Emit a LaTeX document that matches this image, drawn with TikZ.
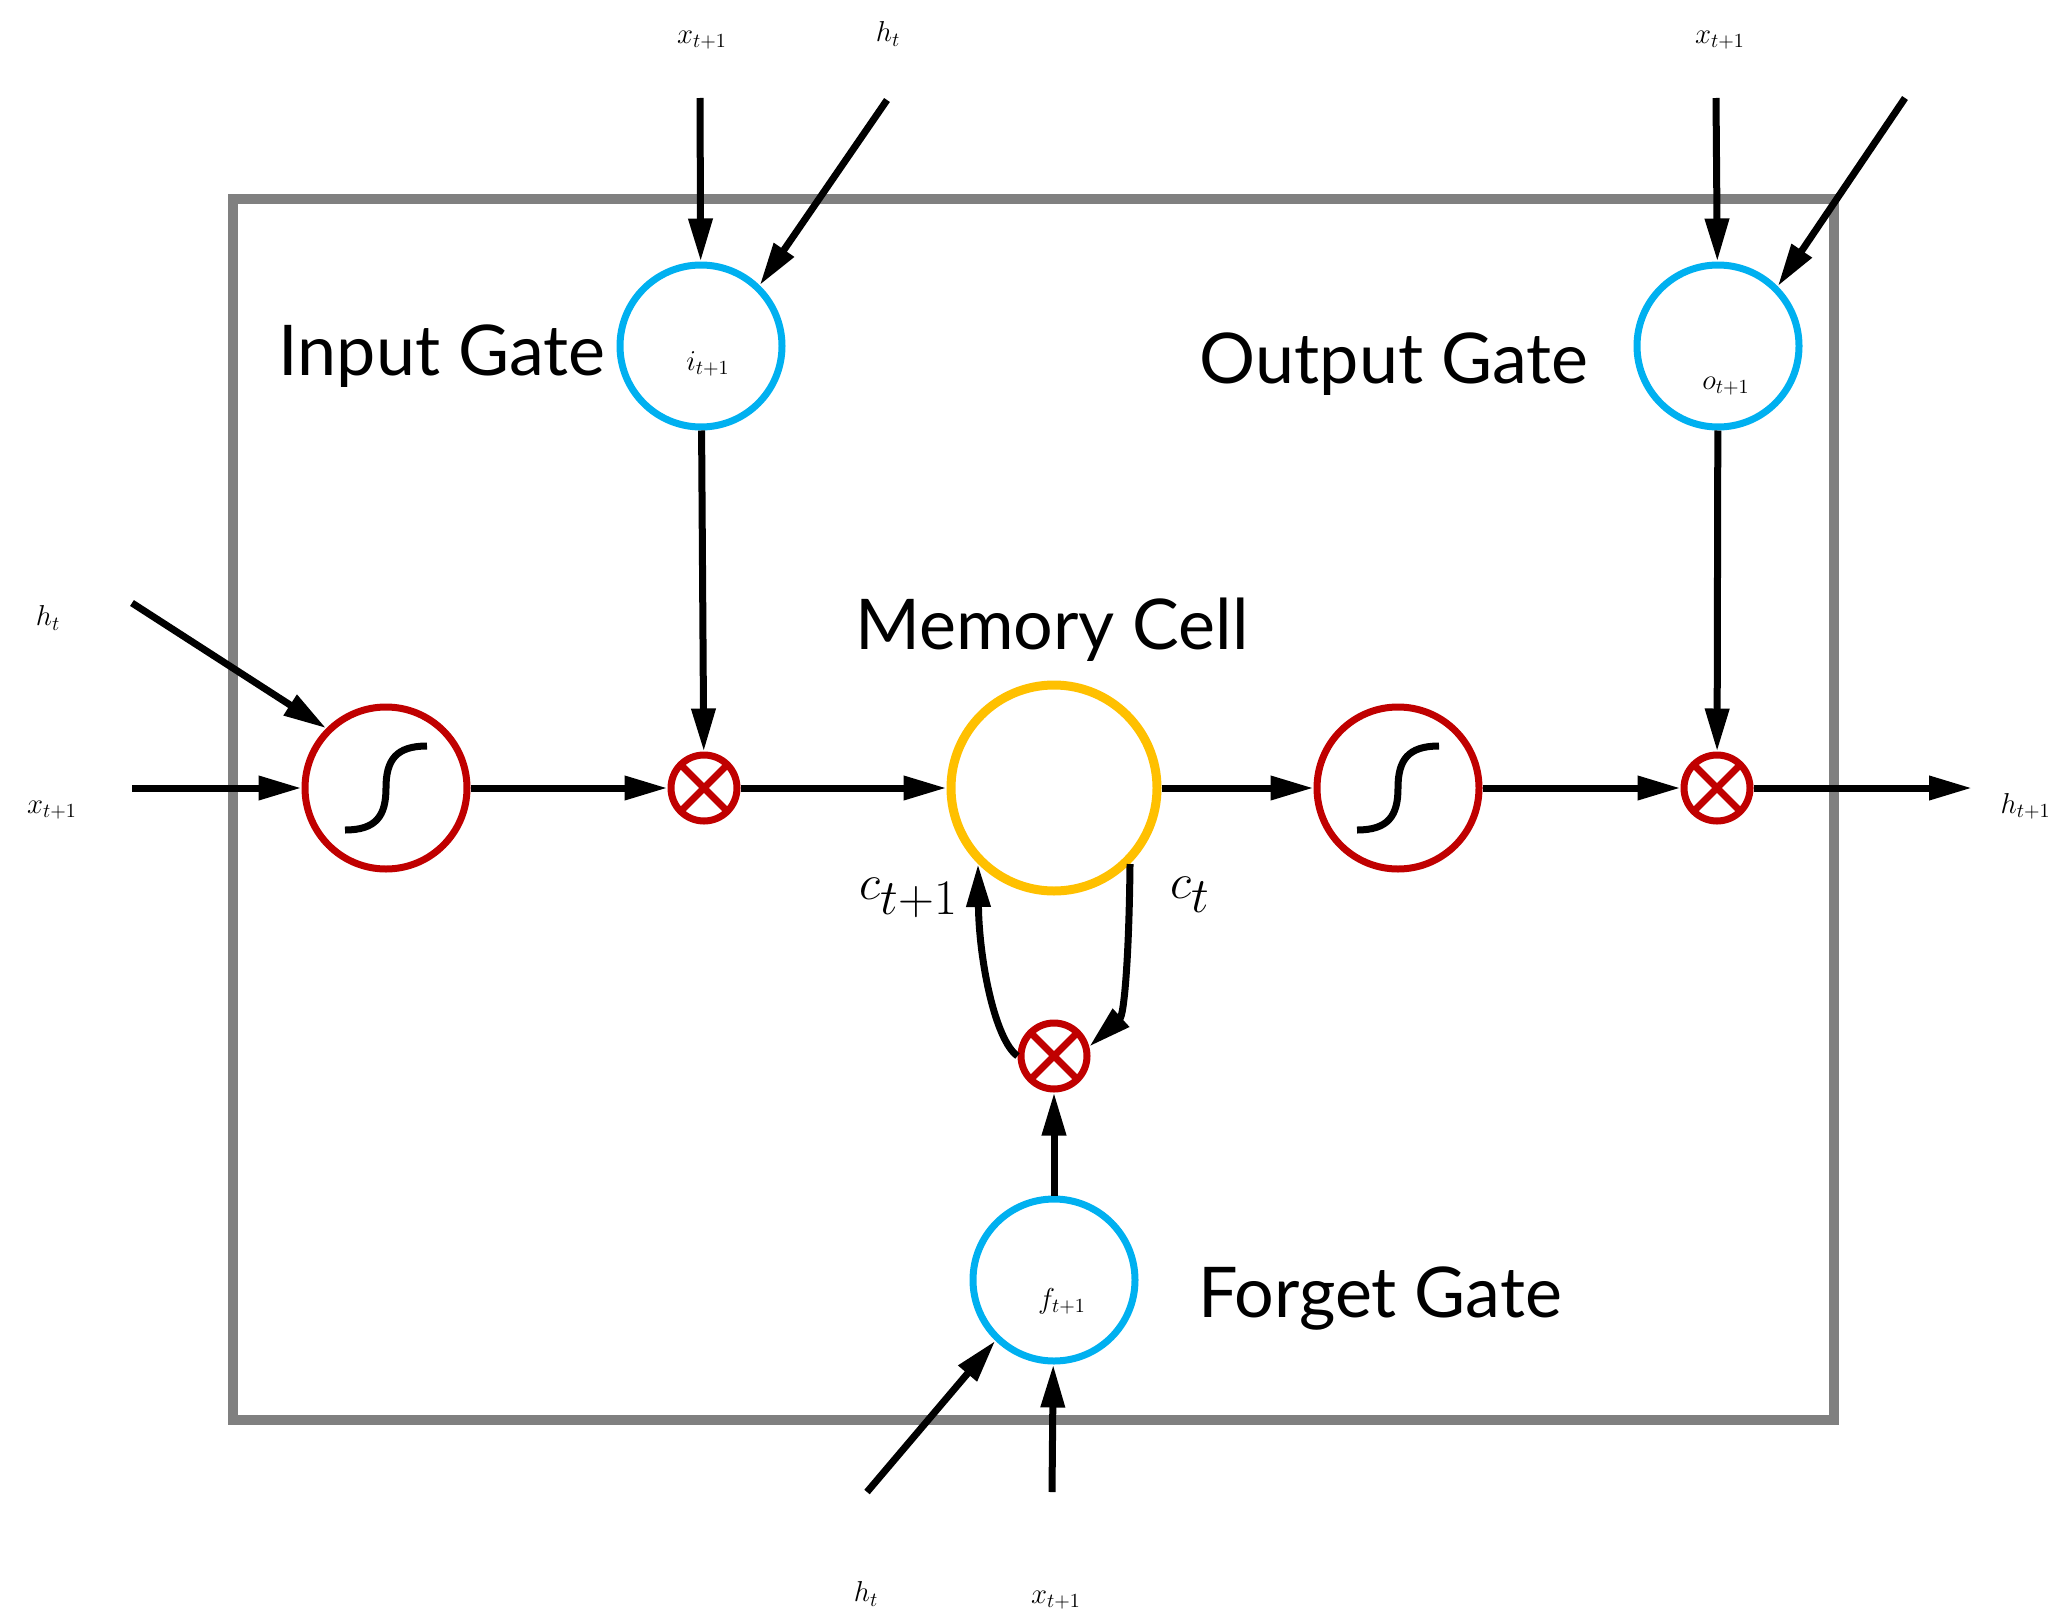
\documentclass[tikz,border=0pt]{standalone}
\usepackage{fontspec}
\newfontfamily\labfont{Lato}
\usetikzlibrary{arrows.meta}
\definecolor{gatered}{HTML}{C00000}
\definecolor{gateblue}{HTML}{00B0F0}
\definecolor{cellgold}{HTML}{FFC000}
\definecolor{boxgray}{HTML}{808080}
\begin{document}
\begin{tikzpicture}[x=0.5pt,y=-0.5pt,
  conn/.style={line width=3.5pt, -{Triangle[length=21.5pt,width=11.5pt]}},
  plain/.style={line width=3.5pt},
  actnode/.style={circle, draw=gatered, line width=3.5pt, minimum size=81pt, inner sep=0pt},
  mulnode/.style={circle, draw=gatered, line width=3.5pt, minimum size=33pt, inner sep=0pt,
    path picture={\draw[gatered, line width=3.5pt]
      (path picture bounding box.north west) -- (path picture bounding box.south east)
      (path picture bounding box.north east) -- (path picture bounding box.south west);}},
  gatenode/.style={circle, draw=gateblue, line width=3.5pt, minimum size=81pt, inner sep=0pt},
  cellnode/.style={circle, draw=cellgold, line width=4.5pt, minimum size=103pt, inner sep=0pt},
  biglab/.style={font=\labfont\fontsize{35}{40}\selectfont, inner sep=0pt, anchor=base},
  smalllab/.style={font=\fontsize{14}{16}\selectfont, inner sep=0pt},
  clab/.style={font=\fontsize{33}{36}\selectfont, inner sep=0pt},
]
\useasboundingbox (0,0) rectangle (2055,1611);
% outer box
\draw[boxgray, line width=5pt] (233,199) rectangle (1834,1420);

% nodes
\node[actnode] (s1) at (386,788) {};
\node[mulnode] (m1) at (704,788) {};
\node[cellnode] (mem) at (1054,788) {};
\node[actnode] (s2) at (1398,788) {};
\node[mulnode] (m2) at (1717,788) {};
\node[gatenode] (ig) at (701,346) {};
\node[gatenode] (og) at (1718,346) {};
\node[mulnode] (mf) at (1054,1056) {};
\node[gatenode] (fg) at (1054,1280) {};

% gate symbols
\node[smalllab] (ilab) at (708,364) {$i_{t+1}$};
\node[smalllab] (olab) at (1726,386) {$o_{t+1}$};
\node[smalllab] (flab) at (1062,1301) {$f_{t+1}$};

% sigmoid curves
\foreach \s in {s1,s2}{
  \draw[plain] ([shift={(-41,42)}]\s.center) .. controls ([shift={(-10,42)}]\s.center) and ([shift={(0,28)}]\s.center) .. (\s.center)
    .. controls ([shift={(0,-28)}]\s.center) and ([shift={(10,-42)}]\s.center) .. ([shift={(41,-42)}]\s.center);
}

% free ends
\coordinate (ix) at (700,98);
\coordinate (ih) at (887,100);
\coordinate (ox) at (1716,98);
\coordinate (oh) at (1905,98);
\coordinate (lh) at (132,603);
\coordinate (lx) at (132,788);
\coordinate (fh) at (867,1492);
\coordinate (fx) at (1052,1492);
\coordinate (out) at (1972,788);

% input labels
\node[smalllab] (ixl) at (702,40) {$x_{t+1}$};
\node[smalllab] (ihl) at (888,34) {$h_t$};
\node[smalllab] (oxl) at (1720,40) {$x_{t+1}$};
\node[smalllab] (lhl) at (48,618) {$h_t$};
\node[smalllab] (lxl) at (52,810) {$x_{t+1}$};
\node[smalllab] (fhl) at (866,1594) {$h_t$};
\node[smalllab] (fxl) at (1056,1600) {$x_{t+1}$};
\node[smalllab, anchor=east] (outl) at (2051,806) {$h_{t+1}$};

% connectors
\draw[conn] (ix) -- (ig);
\draw[conn] (ih) -- (ig.46);
\draw[conn] (ox) -- (og);
\draw[conn] (oh) -- (og.45);
\draw[conn] (lh) -- (s1.135);
\draw[conn] (lx) -- (s1);
\draw[conn] (fh) -- (fg.-134);
\draw[conn] (fx) -- (fg);

\draw[conn] (s1) -- (m1);
\draw[conn] (m1) -- (mem);
\draw[conn] (mem) -- (s2);
\draw[conn] (s2) -- (m2);
\draw[conn] (m2) -- (out);
\draw[conn] (ig) -- (m1);
\draw[conn] (og) -- (m2);
\draw[conn] (fg) -- (mf);

\draw[conn] (mem.-45) .. controls (1129,960) and (1124,1015) .. (mf.15);
\draw[conn] (mf.west) .. controls (995,1040) and (979,960) .. (mem.-135);

% text labels
\node[biglab] (t1) at (442,375) {Input Gate};
\node[biglab] (t2) at (1052,649) {Memory Cell};
\node[biglab] (t3) at (1394,383) {Output Gate};
\node[biglab] (t4) at (1380,1317) {Forget Gate};
\node[clab] (c1) at (909,898) {$c_{t+1}$};
\node[clab] (c2) at (1190,895) {$c_t$};
\end{tikzpicture}
\end{document}
